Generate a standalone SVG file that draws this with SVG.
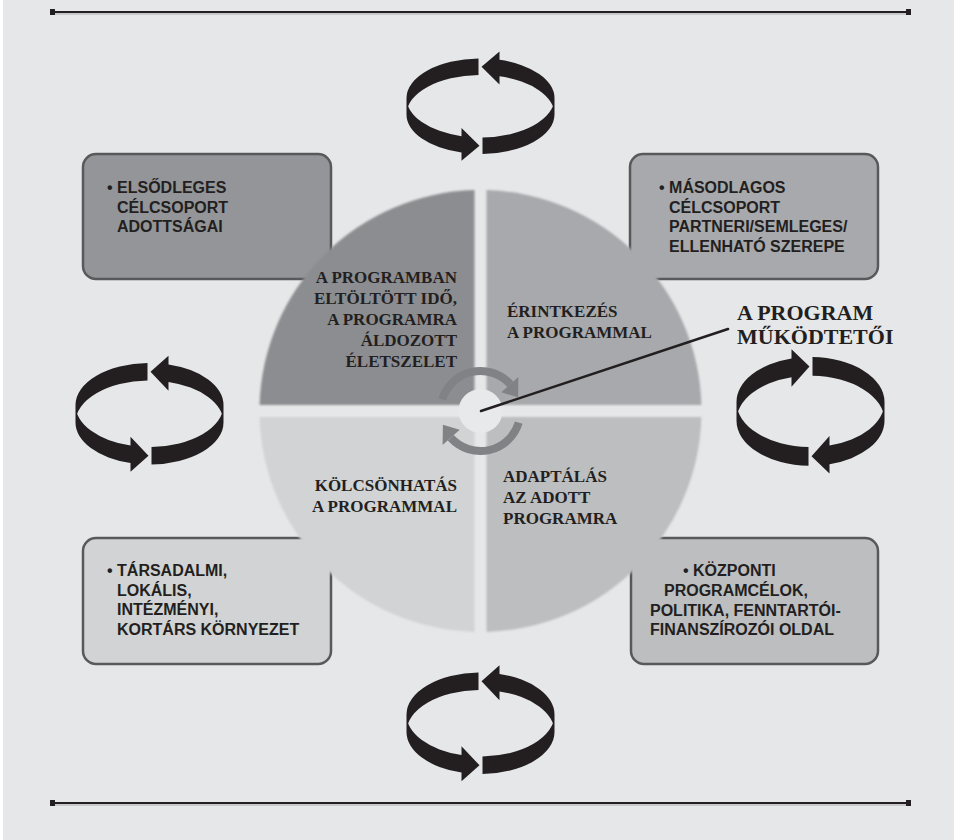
<svg xmlns="http://www.w3.org/2000/svg" xmlns:xlink="http://www.w3.org/1999/xlink" width="954" height="840" viewBox="0 0 954 840">
  <style>
    .box { stroke: #58595b; stroke-width: 2.5; }
    .btxt { font-family: "Liberation Sans", Arial, sans-serif; font-weight: bold; font-size: 16px; fill: #231f20; }
    .qtxt { font-family: "Liberation Serif", "Times New Roman", serif; font-weight: bold; font-size: 17px; fill: #231f20; }
    .lbl { font-family: "Liberation Serif", "Times New Roman", serif; font-weight: bold; font-size: 22px; fill: #231f20; }
    .rule { stroke: #231f20; stroke-width: 2; }
    .rule2 { stroke: #a7a9ac; stroke-width: 1.2; }
    .cap { fill: #231f20; }
    .spin { fill: none; stroke: #808285; stroke-width: 8; }
    .spinhead { fill: #808285; }
  </style>
  <defs>
    <filter id="soft" x="-5%" y="-5%" width="110%" height="110%">
      <feGaussianBlur stdDeviation="0.9"/>
    </filter>
    <!-- ribbon-style cycle: two arrows running around a tilted band -->
    <g id="ribbon">
      <path fill="#231f20" d="
        M -2 -41.985 A 74 42 0 0 0 -74 0 L -74 17.5 A 74 42 0 0 1 -2 -24.485 Z
        M -74 17.5 A 74 42 0 0 0 -19 58.092 L -19 66.84 L -1 50.75 L -19 31.84 L -19 40.592 A 74 42 0 0 1 -74 0 Z
        M 74 0 A 74 42 0 0 0 19 -40.592 L 19 -49.342 L 1 -33.246 L 19 -14.342 L 19 -23.092 A 74 42 0 0 1 74 17.5 Z
        M 74 0 A 74 42 0 0 1 2 41.985 L 2 59.485 A 74 42 0 0 0 74 17.5 Z"/>
    </g>
    <g id="spinhalf">
      <path class="spin" d="M 442.25 399.31 A 40 40 0 0 1 510.23 384.23"/>
      <polygon class="spinhead" points="501.31,392.27 518.40,376.88 518.09,397.32"/>
    </g>
  </defs>

  <!-- page -->
  <rect x="0" y="0" width="954" height="840" fill="#ffffff"/>
  <rect x="3" y="0" width="951" height="840" fill="#e6e7e8"/>

  <!-- top and bottom rules -->
  <g id="rules">
    <line class="rule2" x1="52" y1="14" x2="909" y2="14"/>
    <line class="rule" x1="52" y1="12" x2="909" y2="12"/>
    <rect class="cap" x="50" y="9" width="5" height="6"/>
    <rect class="cap" x="906" y="9" width="5" height="6"/>
    <line class="rule2" x1="52" y1="805" x2="909" y2="805"/>
    <line class="rule" x1="52" y1="803" x2="909" y2="803"/>
    <rect class="cap" x="50" y="800" width="5" height="6"/>
    <rect class="cap" x="906" y="800" width="5" height="6"/>
  </g>

  <!-- cycle ribbons -->
  <g id="cycle-top"><use xlink:href="#ribbon" href="#ribbon" transform="translate(480.5,98) scale(1,0.94)"/></g>
  <g id="cycle-left"><use xlink:href="#ribbon" href="#ribbon" transform="translate(149.5,405)"/></g>
  <g id="cycle-right"><use xlink:href="#ribbon" href="#ribbon" transform="translate(810.5,402) scale(-1,1.07)"/></g>
  <g id="cycle-bottom"><use xlink:href="#ribbon" href="#ribbon" transform="translate(480.5,714.5)"/></g>

  <!-- corner boxes -->
  <g id="box-primary">
    <rect class="box" x="83" y="154" width="248" height="125" rx="13" fill="#939598"/>
    <text class="btxt"><tspan x="107" y="193">• ELSŐDLEGES</tspan><tspan x="117" y="212.5">CÉLCSOPORT</tspan><tspan x="117" y="232">ADOTTSÁGAI</tspan></text>
  </g>
  <g id="box-secondary">
    <rect class="box" x="630" y="154" width="248" height="125" rx="13" fill="#a7a9ac"/>
    <text class="btxt"><tspan x="659" y="193">• MÁSODLAGOS</tspan><tspan x="669" y="212.5">CÉLCSOPORT</tspan><tspan x="669" y="232">PARTNERI/SEMLEGES/</tspan><tspan x="669" y="251.5">ELLENHATÓ SZEREPE</tspan></text>
  </g>
  <g id="box-environment">
    <rect class="box" x="83" y="538" width="248" height="126" rx="13" fill="#d1d3d4"/>
    <text class="btxt"><tspan x="107" y="576">• TÁRSADALMI,</tspan><tspan x="117" y="595.5">LOKÁLIS,</tspan><tspan x="117" y="615">INTÉZMÉNYI,</tspan><tspan x="117" y="634.5">KORTÁRS KÖRNYEZET</tspan></text>
  </g>
  <g id="box-central">
    <rect class="box" x="631" y="538" width="247" height="126" rx="13" fill="#bcbec0"/>
    <text class="btxt"><tspan x="683" y="576">• KÖZPONTI</tspan><tspan x="664" y="596">PROGRAMCÉLOK,</tspan><tspan x="650" y="615.5">POLITIKA, FENNTARTÓI-</tspan><tspan x="650" y="635">FINANSZÍROZÓI OLDAL</tspan></text>
  </g>

  <!-- quartered disc -->
  <g id="disc-shapes" filter="url(#soft)">
    <path id="q-time" d="M 474.5 405 H 259.58 A 221 221 0 0 1 474.5 190.08 Z" fill="#8b8d90"/>
    <path id="q-contact" d="M 486.5 405 V 190.08 A 221 221 0 0 1 701.42 405 Z" fill="#a7a9ac"/>
    <path id="q-adapt" d="M 486.5 417 H 701.42 A 221 221 0 0 1 486.5 631.92 Z" fill="#bcbec0"/>
    <path id="q-interact" d="M 474.5 417 V 631.92 A 221 221 0 0 1 259.58 417 Z" fill="#d1d3d4"/>
  </g>
  <g id="quadrant-time">
    <text class="qtxt" text-anchor="end"><tspan x="457" y="283">A PROGRAMBAN</tspan><tspan x="457" y="304">ELTÖLTÖTT IDŐ,</tspan><tspan x="457" y="325">A PROGRAMRA</tspan><tspan x="457" y="346">ÁLDOZOTT</tspan><tspan x="457" y="367">ÉLETSZELET</tspan></text>
  </g>
  <g id="quadrant-contact">
    <text class="qtxt"><tspan x="507" y="317">ÉRINTKEZÉS</tspan><tspan x="507" y="338">A PROGRAMMAL</tspan></text>
  </g>
  <g id="quadrant-interact">
    <text class="qtxt" text-anchor="end"><tspan x="457" y="491">KÖLCSÖNHATÁS</tspan><tspan x="457" y="512">A PROGRAMMAL</tspan></text>
  </g>
  <g id="quadrant-adapt">
    <text class="qtxt"><tspan x="503" y="482">ADAPTÁLÁS</tspan><tspan x="503" y="503">AZ ADOTT</tspan><tspan x="503" y="524">PROGRAMRA</tspan></text>
  </g>

  <!-- hub with circulating arrows -->
  <g id="hub">
    <use xlink:href="#spinhalf" href="#spinhalf"/>
    <use xlink:href="#spinhalf" href="#spinhalf" transform="rotate(180 480.5 411)"/>
    <circle cx="480.5" cy="411" r="22" fill="#e8e9ea"/>
  </g>

  <!-- pointer from hub to operators label -->
  <g id="connectors">
    <line x1="481" y1="411" x2="728" y2="329" stroke="#231f20" stroke-width="2.5" stroke-linecap="round"/>
  </g>
  <g id="label-operators">
    <text class="lbl" x="737" y="319.5">A PROGRAM</text>
    <text class="lbl" x="737" y="343.5">MŰKÖDTETŐI</text>
  </g>
</svg>
